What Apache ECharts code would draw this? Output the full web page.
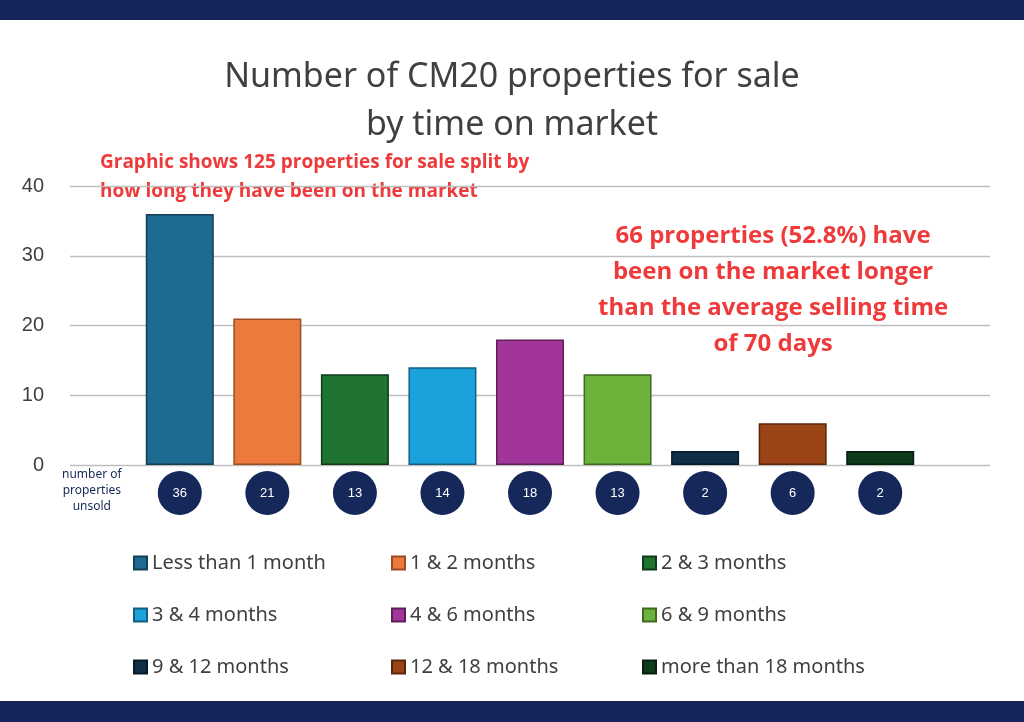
<!DOCTYPE html>
<html><head><meta charset="utf-8">
<script src="https://cdn.jsdelivr.net/npm/echarts@6/dist/echarts.min.js"></script>
<style>body{margin:0}#chart-container{width:1024px;height:722px}</style>
</head><body><div id="chart-container"></div>
<script>
var categories = ['Less than 1 month', '1 & 2 months', '2 & 3 months', '3 & 4 months', '4 & 6 months', '6 & 9 months', '9 & 12 months', '12 & 18 months', 'more than 18 months'];
var values = [36, 21, 13, 14, 18, 13, 2, 6, 2];
var colors = ['#1d6b90', '#eb7a3c', '#1f7432', '#1ba2dc', '#a2359a', '#6cb33c', '#0f2f48', '#9b4517', '#0d3b1c'];
var borders = ['#153f55', '#9c4d22', '#0f3a18', '#135f80', '#5e1f59', '#3f6a22', '#071a28', '#5a270c', '#061f0e'];

var dom = document.getElementById('chart-container');
var myChart = echarts.init(dom, null, { renderer: 'canvas' });

var series = categories.map(function (name, i) {
    return {
        name: name,
        type: 'bar',
        stack: 'all',
        barWidth: 68,
        xAxisIndex: 0,
        yAxisIndex: 0,
        itemStyle: { color: colors[i], borderColor: borders[i], borderWidth: 1.5 },
        data: values.map(function (v, j) { return j === i ? v : null; })
    };
});

function legendCol(left, idx) {
    return {
        orient: 'vertical', left: left, top: 548, itemGap: 32,
        itemWidth: 13, itemHeight: 13, icon: 'rect',
        textStyle: { fontSize: 20, color: '#404040', fontFamily: 'Noto Sans' },
        data: idx.map(function (i) { return categories[i]; })
    };
}

var option = {
    backgroundColor: '#fff',
    animation: false,
    title: {
        text: 'Number of CM20 properties for sale\nby time on market',
        left: 'center', top: 48,
        textStyle: { fontSize: 34, fontWeight: 'normal', color: '#404040', lineHeight: 48, fontFamily: 'Noto Sans' }
    },
    legend: [legendCol(128, [0, 3, 6]), legendCol(386, [1, 4, 7]), legendCol(637, [2, 5, 8])],
    grid: [
        { left: 136, right: 100, top: 186, height: 279 },
        { left: 70, right: 34, top: 186, height: 279 }
    ],
    xAxis: [
        {
            type: 'category', gridIndex: 0, data: categories,
            axisLine: { show: false }, axisTick: { show: false },
            axisLabel: {
                interval: 0, margin: 6,
                formatter: function (v, i) { return '{c|' + values[i] + '}'; },
                rich: { c: { backgroundColor: '#16285a', color: '#fff', width: 44, height: 44, lineHeight: 44, borderRadius: 22, align: 'center', fontSize: 13 } }
            }
        },
        { type: 'category', gridIndex: 1, show: false, data: [] }
    ],
    yAxis: [
        { type: 'value', gridIndex: 0, min: 0, max: 40, interval: 10, show: false },
        {
            type: 'value', gridIndex: 1, min: 0, max: 40, interval: 10,
            axisLabel: { fontSize: 20, color: '#404040', margin: 26 },
            splitLine: { lineStyle: { color: '#bfbfbf', width: 1.3 } },
            axisLine: { show: false }, axisTick: { show: false }
        }
    ],
    graphic: [
        { type: 'rect', left: 0, top: 0, shape: { width: 1024, height: 20 }, style: { fill: '#15255a' } },
        { type: 'rect', left: 0, top: 701, shape: { width: 1024, height: 21 }, style: { fill: '#15255a' } },
        { type: 'text', left: 100, top: 148, style: { text: 'Graphic shows 125 properties for sale split by\nhow long they have been on the market', fill: '#ee3a3a', font: 'bold 19px "Open Sans"', lineHeight: 29, align: 'center', x: 265 } },
        { type: 'text', left: 598, top: 218, style: { text: '66 properties (52.8%) have\nbeen on the market longer\nthan the average selling time\nof 70 days', fill: '#ee3a3a', font: 'bold 24px "Open Sans"', lineHeight: 36, textAlign: 'center' } },
        { type: 'text', left: 62, top: 467, style: { text: 'number of\nproperties\nunsold', fill: '#16285a', font: '12px "Noto Sans"', lineHeight: 16, textAlign: 'center' } }
    ],
    series: series
};

myChart.setOption(option);
window.addEventListener('resize', myChart.resize);
</script></body></html>
